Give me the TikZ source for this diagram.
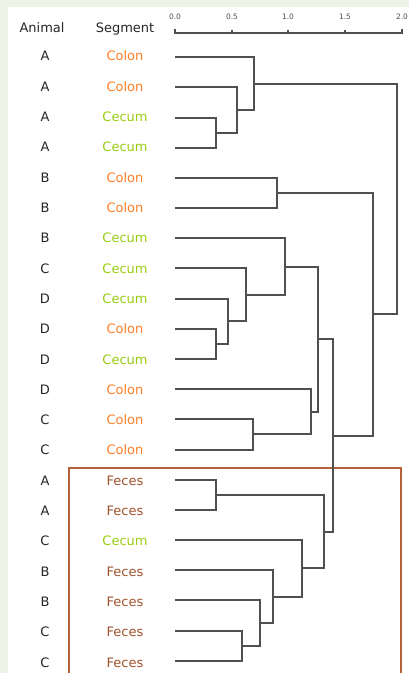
\documentclass[tikz,border=0pt]{standalone}
\usepackage{fontspec}
\setmainfont{DejaVu Sans}
\definecolor{bgout}{HTML}{EFF3E7}
\definecolor{colColon}{HTML}{FF7F27}
\definecolor{colCecum}{HTML}{99CC11}
\definecolor{colFeces}{HTML}{A0522D}
\definecolor{boxcol}{HTML}{B5623A}
\definecolor{dgray}{HTML}{505050}
\begin{document}
\begin{tikzpicture}[x=1pt,y=-1pt,
  lbl/.style={font=\fontsize{13}{15}\selectfont, anchor=base, inner sep=0pt},
  ticklbl/.style={font=\fontsize{7.5}{9}\selectfont, text=dgray, anchor=base, inner sep=0pt},
  dend/.style={draw=dgray, line width=1.6pt},
  axis/.style={draw=dgray, line width=1.2pt}]
\useasboundingbox (0,0) rectangle (409,673);
\fill[bgout] (0,0) rectangle (409,673);
\fill[white] (8,7) rectangle (409,673);

% headers
\node[lbl, text=black!85] (hA) at (42,32) {Animal};
\node[lbl, text=black!85] (hS) at (125,32) {Segment};

% axis
\foreach \x/\t [count=\k from 0] in {175/0.0,232/0.5,288/1.0,345/1.5,402/2.0}{
  \coordinate (tk\k) at (\x,33);
  \node[ticklbl] (tl\k) at (\x,19) {\t};
}
\draw[axis] (tk0) ++(0,-4.5) -- (tk0) -- (tk4) -- ++(0,-4.5);
\foreach \k in {1,2,3}{ \draw[axis] (tk\k) -- ++(0,-3.5); }

% labels
\foreach \a/\s/\y [count=\i] in {A/Colon/57,A/Colon/87,A/Cecum/118,A/Cecum/148,B/Colon/178,B/Colon/208,B/Cecum/238,C/Cecum/268,D/Cecum/299,D/Colon/329,D/Cecum/359,D/Colon/389,C/Colon/419,C/Colon/450,A/Feces/480,A/Feces/510,C/Cecum/540,B/Feces/570,B/Feces/600,C/Feces/631,C/Feces/661}{
  \node[lbl, text=black!85] (a\i) at (45,{56.2+30.32*(\i-1)+4.6}) {\a};
  \node[lbl, text=col\s] (s\i) at (125,{56.2+30.32*(\i-1)+4.6}) {\s};
  \coordinate (l\i) at (175,\y);
}

% feces box
\draw[boxcol, line width=1.4pt] (69,675) -- (69,468) -- (401,468) -- (401,675);

% internal nodes
\coordinate (n34) at (216,133);
\coordinate (n234) at (237,110);
\coordinate (n1234) at (254,84);
\coordinate (n56) at (277,193);
\coordinate (n1011) at (216,344);
\coordinate (n911) at (228,321);
\coordinate (n811) at (246,295);
\coordinate (n711) at (285,267);
\coordinate (n1314) at (253,434);
\coordinate (n1214) at (311,412);
\coordinate (n714) at (318,339);
\coordinate (n1516) at (216,495);
\coordinate (n2021) at (242,646);
\coordinate (n1921) at (260,623);
\coordinate (n1821) at (273,597);
\coordinate (n1721) at (302,568);
\coordinate (n1521) at (324,532);
\coordinate (n721) at (333,436);
\coordinate (n521) at (373,314);
\coordinate (root) at (397,199);

\foreach \c/\p in {l3/n34,l4/n34,l2/n234,n34/n234,l1/n1234,n234/n1234,
  l5/n56,l6/n56,l10/n1011,l11/n1011,l9/n911,n1011/n911,l8/n811,n911/n811,
  l7/n711,n811/n711,l13/n1314,l14/n1314,l12/n1214,n1314/n1214,n711/n714,n1214/n714,
  l15/n1516,l16/n1516,l20/n2021,l21/n2021,l19/n1921,n2021/n1921,l18/n1821,n1921/n1821,
  l17/n1721,n1821/n1721,n1516/n1521,n1721/n1521,n714/n721,n1521/n721,
  n56/n521,n721/n521,n1234/root,n521/root}{
  \draw[dend] (\c) -| (\p);
}
\end{tikzpicture}
\end{document}
